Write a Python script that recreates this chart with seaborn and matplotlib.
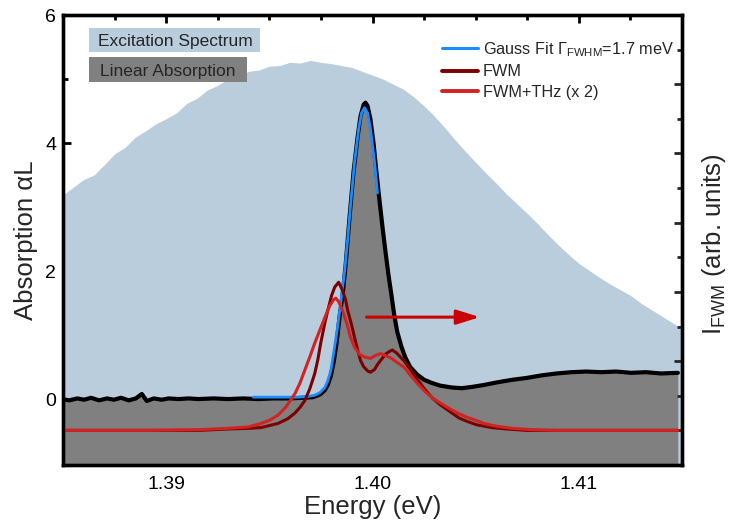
import matplotlib
matplotlib.use("Agg")
import matplotlib.pyplot as plt
import seaborn as sns
import numpy as np
import pandas as pd
from matplotlib.ticker import MultipleLocator
from matplotlib.lines import Line2D
from matplotlib.patches import Rectangle

sns.set_style("ticks")
plt.rcParams['font.family'] = ['Liberation Sans', 'DejaVu Sans']
plt.rcParams['mathtext.fontset'] = 'custom'
plt.rcParams['mathtext.rm'] = 'Liberation Sans'
plt.rcParams['mathtext.it'] = 'Liberation Sans:italic'
plt.rcParams['mathtext.bf'] = 'Liberation Sans:bold'

# ---------------- data ----------------
exc_E = [1.3850, 1.3855, 1.3860, 1.3865, 1.3870, 1.3875, 1.3880, 1.3885, 1.3890, 1.3895,
         1.3900, 1.3905, 1.3910, 1.3915, 1.3920, 1.3925, 1.3930, 1.3935, 1.3940, 1.3945,
         1.3950, 1.3955, 1.3960, 1.3965, 1.3970, 1.3975, 1.3980, 1.3985, 1.3990, 1.3995,
         1.4000, 1.4005, 1.4010, 1.4015, 1.4020, 1.4025, 1.4030, 1.4035, 1.4040, 1.4045,
         1.4050, 1.4055, 1.4060, 1.4065, 1.4070, 1.4075, 1.4080, 1.4085, 1.4090, 1.4095,
         1.4100, 1.4105, 1.4110, 1.4115, 1.4120, 1.4125, 1.4130, 1.4135, 1.4140, 1.4145, 1.4150]
exc_val = [3.19, 3.31, 3.43, 3.50, 3.66, 3.83, 3.93, 4.09, 4.19, 4.30,
           4.38, 4.47, 4.62, 4.70, 4.83, 4.90, 5.00, 5.04, 5.12, 5.14,
           5.20, 5.21, 5.26, 5.25, 5.29, 5.26, 5.24, 5.21, 5.18, 5.12,
           5.06, 5.00, 4.92, 4.84, 4.72, 4.58, 4.42, 4.24, 4.05, 3.87,
           3.70, 3.53, 3.37, 3.20, 3.05, 2.90, 2.74, 2.57, 2.41, 2.26,
           2.12, 2.01, 1.90, 1.80, 1.71, 1.62, 1.50, 1.40, 1.30, 1.20, 1.10]

abs_E = [1.38496, 1.38530, 1.38569, 1.38602, 1.38636, 1.38675, 1.38713, 1.38747, 1.38781, 1.38819,
         1.38853, 1.38882, 1.38906, 1.38940, 1.38978, 1.39012, 1.39060, 1.39108, 1.39157, 1.39229,
         1.39301, 1.39374, 1.39446, 1.39518, 1.39590, 1.39663, 1.39711, 1.39745, 1.39769, 1.39783,
         1.39798, 1.39812, 1.39827, 1.39841, 1.39855, 1.39870, 1.39889, 1.39908, 1.39928, 1.39942,
         1.39957, 1.39966, 1.39976, 1.39990, 1.40005, 1.40019, 1.40034, 1.40048, 1.40063, 1.40077,
         1.40092, 1.40106, 1.40120, 1.40140, 1.40159, 1.40183, 1.40217, 1.40251, 1.40289, 1.40328,
         1.40386, 1.40434, 1.40482, 1.40540, 1.40602, 1.40675, 1.40747, 1.40819, 1.40892, 1.40964,
         1.41036, 1.41108, 1.41181, 1.41253, 1.41325, 1.41398, 1.41480]
abs_val = [0.00, -0.02, 0.01, -0.01, 0.02, -0.02, 0.01, -0.01, 0.02, -0.02,
           0.01, 0.08, -0.03, 0.01, -0.01, 0.01, 0.00, 0.01, 0.00, 0.01,
           0.00, 0.01, 0.00, 0.01, 0.01, 0.02, 0.03, 0.07, 0.14, 0.22,
           0.36, 0.58, 0.90, 1.30, 1.62, 2.10, 2.85, 3.55, 4.10, 4.42,
           4.60, 4.63, 4.58, 4.37, 4.00, 3.55, 3.10, 2.70, 2.30, 1.95,
           1.62, 1.30, 1.05, 0.82, 0.65, 0.50, 0.38, 0.30, 0.25, 0.21,
           0.18, 0.17, 0.19, 0.22, 0.26, 0.30, 0.33, 0.37, 0.40, 0.42,
           0.43, 0.42, 0.43, 0.41, 0.42, 0.40, 0.41]

gauss_E = [1.39422, 1.39542, 1.39639, 1.39687, 1.39720, 1.39745, 1.39769, 1.39783, 1.39798, 1.39812,
           1.39831, 1.39846, 1.39855, 1.39865, 1.39880, 1.39894, 1.39913, 1.39933, 1.39947, 1.39961,
           1.39976, 1.39990, 1.40010, 1.40024]
gauss_val = [0.03, 0.03, 0.03, 0.04, 0.06, 0.10, 0.18, 0.28, 0.45, 0.72,
             1.13, 1.50, 1.75, 2.00, 2.51, 3.04, 3.70, 4.22, 4.47, 4.55,
             4.47, 4.22, 3.70, 3.22]

fwm_E = [1.38496, 1.38675, 1.38916, 1.39157, 1.39301, 1.39398, 1.39460, 1.39542, 1.39590, 1.39624,
         1.39648, 1.39672, 1.39696, 1.39720, 1.39735, 1.39749, 1.39769, 1.39783, 1.39802, 1.39817,
         1.39836, 1.39855, 1.39870, 1.39880, 1.39899, 1.39913, 1.39928, 1.39942, 1.39957, 1.39976,
         1.39990, 1.40010, 1.40024, 1.40039, 1.40063, 1.40082, 1.40096, 1.40116, 1.40135, 1.40154,
         1.40183, 1.40217, 1.40251, 1.40289, 1.40328, 1.40376, 1.40419, 1.40458, 1.40506, 1.40578,
         1.40651, 1.40747, 1.40892, 1.41085, 1.41277, 1.41480]
fwm_val = [0.00, 0.00, 0.00, 0.00, 0.02, 0.03, 0.04, 0.10, 0.17, 0.25,
           0.33, 0.43, 0.60, 0.82, 1.02, 1.26, 1.55, 1.73, 1.95, 2.07,
           2.14, 2.02, 1.88, 1.73, 1.52, 1.34, 1.16, 1.01, 0.92, 0.86,
           0.84, 0.88, 0.95, 1.01, 1.10, 1.14, 1.16, 1.12, 1.06, 1.00,
           0.88, 0.74, 0.60, 0.47, 0.37, 0.27, 0.18, 0.13, 0.08, 0.04,
           0.02, 0.00, 0.00, 0.00, 0.00, 0.00]

thz_E = [1.38496, 1.38916, 1.39157, 1.39301, 1.39398, 1.39460, 1.39504, 1.39542, 1.39581, 1.39624,
         1.39648, 1.39672, 1.39696, 1.39720, 1.39745, 1.39769, 1.39793, 1.39812, 1.39822, 1.39836,
         1.39855, 1.39875, 1.39894, 1.39913, 1.39937, 1.39961, 1.39990, 1.40014, 1.40039, 1.40063,
         1.40087, 1.40120, 1.40154, 1.40183, 1.40217, 1.40255, 1.40294, 1.40337, 1.40376, 1.40419,
         1.40458, 1.40506, 1.40540, 1.40602, 1.40675, 1.40771, 1.40892, 1.41085, 1.41277, 1.41480]
thz_val = [0.00, 0.00, 0.01, 0.03, 0.05, 0.10, 0.15, 0.22, 0.34, 0.53,
           0.68, 0.87, 1.06, 1.26, 1.45, 1.63, 1.80, 1.89, 1.91, 1.86,
           1.73, 1.55, 1.34, 1.20, 1.10, 1.06, 1.04, 1.08, 1.11, 1.08,
           1.05, 0.98, 0.91, 0.80, 0.68, 0.56, 0.46, 0.38, 0.31, 0.24,
           0.19, 0.14, 0.10, 0.06, 0.03, 0.01, 0.00, 0.00, 0.00, 0.00]

arrow_start = (1.39971, 1.28)
arrow_end = (1.40520, 1.28)

legend_labels = [r"Gauss Fit $\Gamma_{\mathrm{FWHM}}$=1.7 meV", "FWM", "FWM+THz (x 2)"]
box_labels = ["Excitation Spectrum", "Linear Absorption"]

# ---------------- style ----------------
c_exc = "#b9cddd"
c_abs = "#808080"
c_gauss = "#1a8cff"
c_fwm = "#7d0000"
c_thz = "#d22222"
c_arrow = "#cc0000"

W, H = 729, 527
fig = plt.figure(figsize=(W / 100, H / 100), dpi=100)
ax = fig.add_axes([63 / W, 1 - 465 / H, 619 / W, 450 / H])
ax.set_facecolor("white")

ax.fill_between(exc_E, -2, exc_val, color=c_exc, lw=0, zorder=1)
ax.fill_between(abs_E, -2, abs_val, color=c_abs, lw=0, zorder=2)
sns.lineplot(x=abs_E, y=abs_val, ax=ax, color="black", lw=3.0, estimator=None, sort=False, zorder=3)
sns.lineplot(x=gauss_E, y=gauss_val, ax=ax, color=c_gauss, lw=2.0, estimator=None, sort=False, zorder=4)
ax.annotate("", xy=arrow_end, xytext=arrow_start,
            arrowprops=dict(arrowstyle="-|>,head_length=0.7,head_width=0.22",
                            color=c_arrow, lw=2.2, mutation_scale=20, shrinkA=0, shrinkB=0),
            zorder=6)

ax.set_xlim(1.385, 1.415)
ax.set_ylim(-1.03, 6)
ax.xaxis.set_major_locator(MultipleLocator(0.01))
ax.xaxis.set_minor_locator(MultipleLocator(0.0025))
ax.yaxis.set_major_locator(MultipleLocator(2))
ax.yaxis.set_minor_locator(MultipleLocator(1))
ax.set_xticks([1.39, 1.40, 1.41])
ax.set_xticklabels(["1.39", "1.40", "1.41"])
ax.tick_params(axis="both", which="both", direction="in", width=2, top=True, right=False,
               labelsize=14, colors="black")
ax.tick_params(axis="both", which="major", length=6)
ax.tick_params(axis="both", which="minor", length=3.5)
ax.tick_params(axis="x", pad=8)
ax.tick_params(axis="y", pad=5)
ax.set_xlabel("Energy (eV)", fontsize=18.5)
ax.set_ylabel("Absorption αL", fontsize=18.5)
ax.xaxis.set_label_coords(0.5, -0.067)
ax.yaxis.set_label_coords(-0.040, 0.5)

ax2 = ax.twinx()
sns.lineplot(x=fwm_E, y=fwm_val, ax=ax2, color=c_fwm, lw=2.2, estimator=None, sort=False)
sns.lineplot(x=thz_E, y=thz_val, ax=ax2, color=c_thz, lw=2.2, estimator=None, sort=False)
ax2.set_ylim(-0.5, 6)
ax2.yaxis.set_major_locator(MultipleLocator(1))
ax2.yaxis.set_minor_locator(MultipleLocator(0.5))
ax2.tick_params(axis="y", which="both", direction="in", width=2, labelright=False)
ax2.tick_params(axis="y", which="major", length=6)
ax2.tick_params(axis="y", which="minor", length=3.5)
ax2.set_ylabel(r"I$_{\mathrm{FWM}}$ (arb. units)", fontsize=18.5)
ax2.yaxis.set_label_coords(1.029, 0.49)

for a in (ax, ax2):
    for s in a.spines.values():
        s.set_linewidth(2.4)
        s.set_color("black")
        s.set_visible(True)

handles = [Line2D([], [], color=c_gauss, lw=2.2),
           Line2D([], [], color=c_fwm, lw=2.8),
           Line2D([], [], color=c_thz, lw=2.8)]
leg = ax2.legend(handles, legend_labels, loc="upper left",
                 bbox_to_anchor=(442 / W, 1 - 40 / H), bbox_transform=fig.transFigure,
                 frameon=False, fontsize=11.7, handlelength=2.2, handletextpad=0.3,
                 labelspacing=0.34, borderpad=0, borderaxespad=0)

# labelled boxes
fig.patches.append(Rectangle((89 / W, 1 - 52 / H), 171 / W, 24 / H, transform=fig.transFigure,
                             facecolor=c_exc, edgecolor="none", zorder=5))
fig.patches.append(Rectangle((89 / W, 1 - 82 / H), 158 / W, 25 / H, transform=fig.transFigure,
                             facecolor=c_abs, edgecolor="none", zorder=5))
fig.text(98 / W, 1 - 45.7 / H, box_labels[0], fontsize=12.5, va="baseline", ha="left", zorder=6)
fig.text(100 / W, 1 - 75.7 / H, box_labels[1], fontsize=12.5, va="baseline", ha="left", zorder=6)

fig.savefig("out.png", dpi=100)
